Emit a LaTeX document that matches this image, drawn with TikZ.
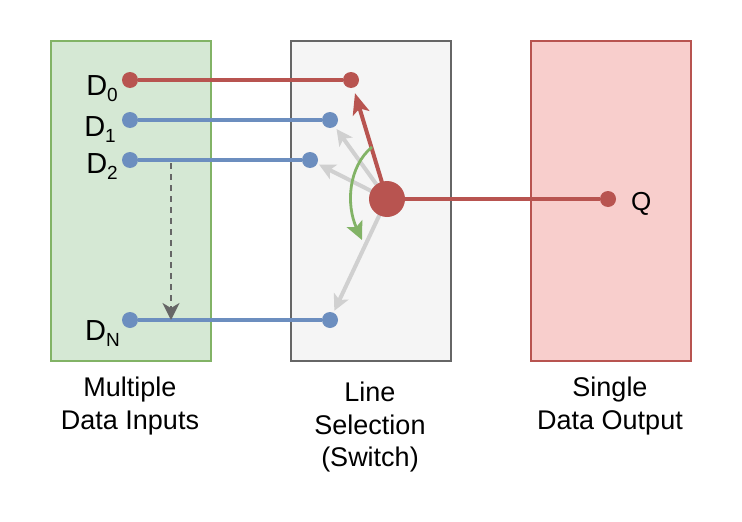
\documentclass[tikz,border=0pt]{standalone}
\usepackage{fontspec}
\setmainfont{Liberation Sans}
\usetikzlibrary{arrows.meta}
\definecolor{redS}{HTML}{B85450}
\definecolor{redF}{HTML}{F8CECC}
\definecolor{greenS}{HTML}{82B366}
\definecolor{greenF}{HTML}{D5E8D4}
\definecolor{grayS}{HTML}{666666}
\definecolor{grayF}{HTML}{F5F5F5}
\definecolor{blueS}{HTML}{6C8EBF}
\definecolor{lightarrow}{HTML}{D0D0D0}
\newcommand\dsub[1]{\raisebox{-6pt}{\fontsize{19}{19}\selectfont #1}}
\begin{document}
\begin{tikzpicture}[x=1pt,y=-1pt,
  panel/.style={draw, line width=2pt, minimum width=160pt, minimum height=320pt, inner sep=0, anchor=north west},
  dot/.style={circle, fill=#1, minimum size=16pt, inner sep=0},
  wire/.style={line width=4pt, draw=#1},
  caption/.style={align=center, inner sep=0, font=\fontsize{27}{32.5}\selectfont, anchor=north},
  dlabel/.style={inner sep=0, anchor=base east, font=\fontsize{29}{29}\selectfont},
  greyarrow/.style={draw=lightarrow, line width=4pt, -{Stealth[length=16pt,width=16pt,inset=4pt]}},
  redarrow/.style={draw=redS, line width=4pt, -{Stealth[length=21pt,width=17pt,inset=5pt]}},
  swingarrow/.style={draw=greenS, line width=2.8pt, -{Stealth[length=18pt,width=17pt,inset=4pt]}},
  guidearrow/.style={draw=grayS, line width=2.2pt, dash pattern=on 6pt off 5pt, -{Stealth[length=17pt,width=17pt,inset=5pt]}}
]
\useasboundingbox (0,0) rectangle (742,522);
\fill[white] (0,0) rectangle (742,522);

% panels
\node[panel, draw=greenS, fill=greenF] (inbox) at (50,40) {};
\node[panel, draw=grayS, fill=grayF] (selbox) at (290,40) {};
\node[panel, draw=redS, fill=redF] (outbox) at (530,40) {};

% captions
\node[caption] (capin) at (130,377) {Multiple\\Data Inputs};
\node[caption] (capsel) at (370,382) {Line\\Selection\\(Switch)};
\node[caption] (capout) at (610,377) {Single\\Data Output};

% input dots
\node[dot=redS] (d0a) at (130,80) {};
\node[dot=blueS] (d1a) at (130,120) {};
\node[dot=blueS] (d2a) at (130,160) {};
\node[dot=blueS] (dna) at (130,320) {};
\node[dot=redS] (d0b) at (351,80) {};
\node[dot=blueS] (d1b) at (330,120) {};
\node[dot=blueS] (d2b) at (310,160) {};
\node[dot=blueS] (dnb) at (330,320) {};

% labels
\node[dlabel] (l0) at (118,95) {D\dsub{0}};
\node[dlabel] (l1) at (116,136) {D\dsub{1}};
\node[dlabel] (l2) at (118,173) {D\dsub{2}};
\node[dlabel] (ln) at (120,340) {D\dsub{N}};

% wires
\draw[wire=redS] (d0a) -- (d0b);
\draw[wire=blueS] (d1a) -- (d1b);
\draw[wire=blueS] (d2a) -- (d2b);
\draw[wire=blueS] (dna) -- (dnb);

% dashed guide
\coordinate (ds) at (171,163);
\coordinate (de) at (171,320);
\draw[guidearrow] (ds) -- (de);

% hub and output
\coordinate (hubc) at (387,199);
\node[dot=redS] (qdot) at (608,199) {};
\draw[wire=redS] (hubc) -- (qdot);
\draw[greyarrow, shorten >=3pt] (hubc) -- (d1b);
\draw[greyarrow, shorten >=2pt] (hubc) -- (d2b);
\draw[greyarrow, shorten >=2pt] (hubc) -- (dnb);
\draw[redarrow, shorten >=5.5pt] (hubc) -- (d0b);
\node[circle, fill=redS, minimum size=36pt, inner sep=0] (hub) at (hubc) {};

% swing arc
\coordinate (gs) at (372,147);
\coordinate (ge) at (362,240);
\draw[swingarrow] (gs) .. controls (348,167) and (346,205) .. (ge);

% output label
\node[inner sep=0, anchor=base west, font=\fontsize{26}{26}\selectfont] (ql) at (631,210) {Q};
\end{tikzpicture}
\end{document}
